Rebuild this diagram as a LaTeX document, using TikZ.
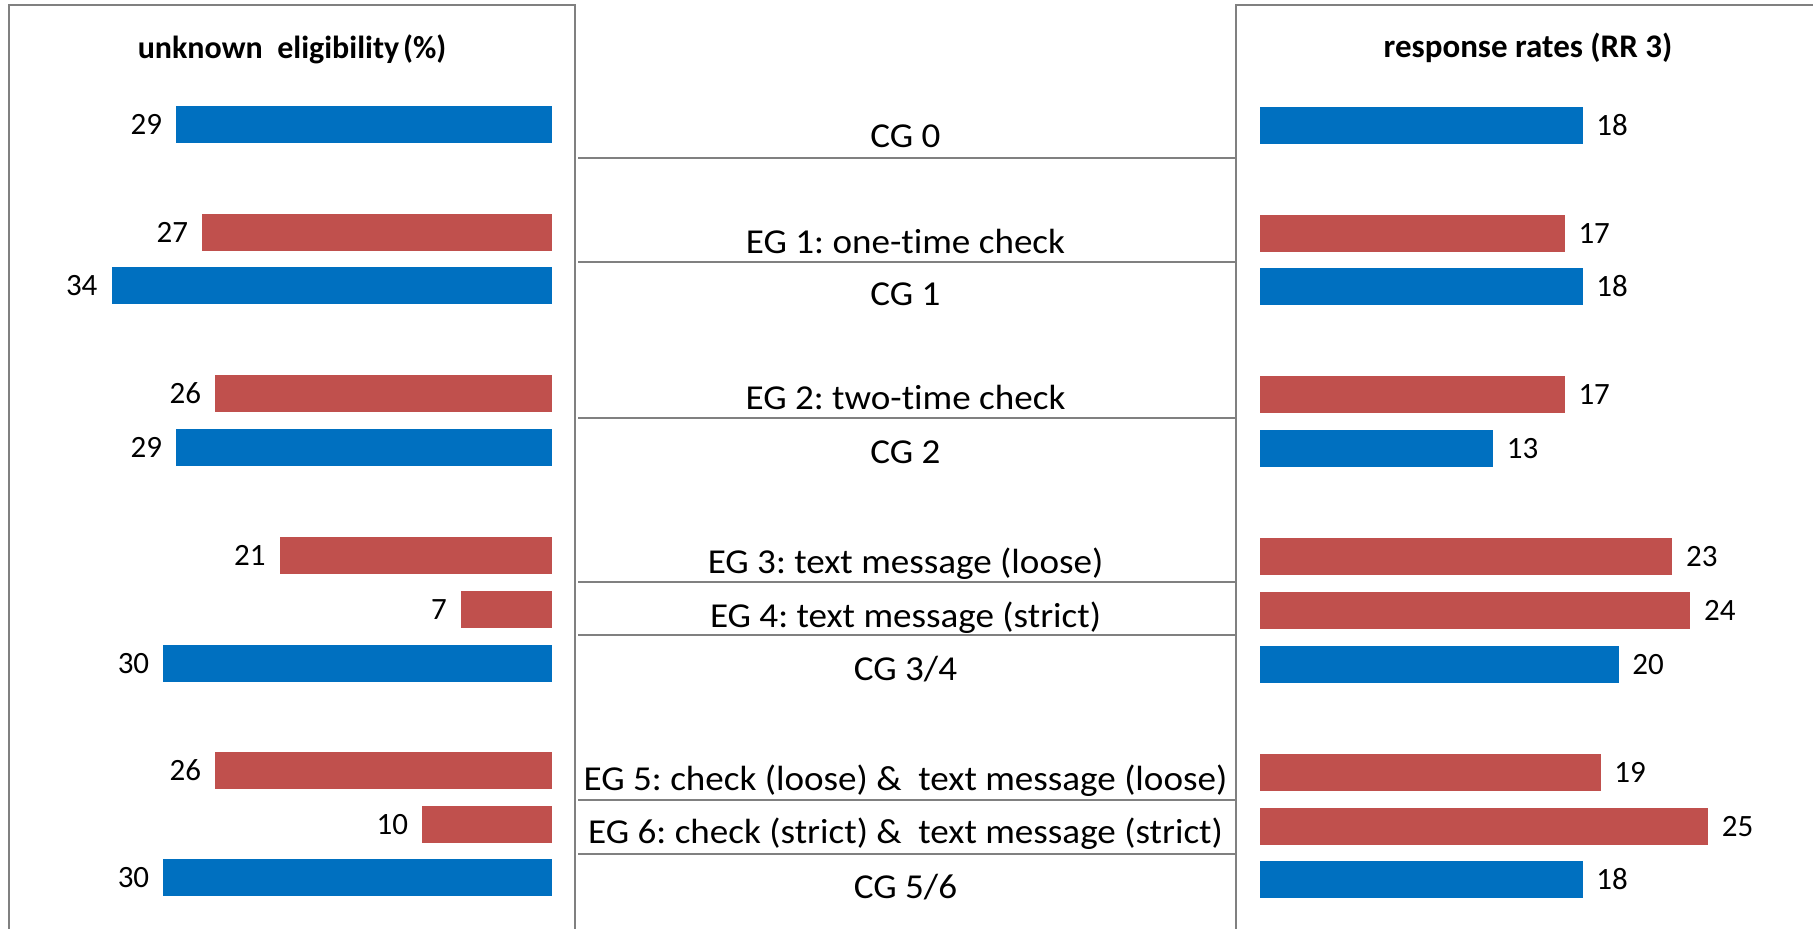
\documentclass[tikz,border=0pt]{standalone}
\usepackage{fontspec}
\setmainfont[Ligatures=NoCommon]{Carlito}
\newfontfamily\widefont[FakeStretch=1.06,Ligatures=NoCommon]{Carlito}
\frenchspacing
\definecolor{cgblue}{RGB}{0,112,192}
\definecolor{egred}{RGB}{192,80,77}
\definecolor{rulegray}{RGB}{128,128,128}
\begin{document}
\begin{tikzpicture}[x=1pt,y=-1pt,
  frame/.style={draw=rulegray,line width=2.5pt},
  sep/.style={draw=rulegray,line width=2.8pt},
  numlab/.style={font=\fontsize{31}{36}\selectfont,inner sep=0pt},
  grplab/.style={font=\widefont\fontsize{35}{42}\selectfont,inner sep=0pt,anchor=base},
  ttl/.style={font=\bfseries\fontsize{32}{38}\selectfont,inner sep=0pt,anchor=base}]
\useasboundingbox (0,0) rectangle (1813,929);
\fill[white] (0,0) rectangle (1813,929);
% panel frames
\coordinate (lb) at (9,929); \coordinate (lt) at (9,5);
\coordinate (rt0) at (575,5); \coordinate (rb0) at (575,929);
\draw[frame] (lb) -- (lt) -- (rt0) -- (rb0);
\coordinate (pb) at (1236,929); \coordinate (pt) at (1236,5); \coordinate (pr) at (1813,5);
\draw[frame] (pb) -- (pt) -- (pr);
% titles
\node[ttl] (tleft) at (292,58) {unknown\ \ eligibility\hspace{0.12em}(\%)};
\node[ttl,font=\bfseries\fontsize{33}{38}\selectfont] (tright) at (1528,57) {response rates (RR 3)};
% separators
\foreach \y/\n in {158/s0,262/s1,418/s2,582/s3,635/s4,800/s5,854/s6}{
  \coordinate (\n a) at (578,\y); \coordinate (\n b) at (1236,\y);
  \draw[sep] (\n a) -- (\n b);
}
% group labels
\node[grplab] (g0) at (905.5,147) {CG 0};
\node[grplab] (e1) at (905.5,253) {EG 1: one-t\kern0pt ime check};
\node[grplab] (g1) at (905.5,305) {CG 1};
\node[grplab] (e2) at (905.5,409) {EG 2: two-t\kern0pt ime check};
\node[grplab] (g2) at (905.5,463) {CG 2};
\node[grplab] (e3) at (905.5,573) {EG 3: text message (loose)};
\node[grplab] (e4) at (905.5,627) {EG 4: text message (strict)};
\node[grplab] (g34) at (905.5,680) {CG 3/4};
\node[grplab] (e5) at (905.5,790) {EG 5: check (loose) \& \ text message (loose)};
\node[grplab] (e6) at (905.5,843) {EG 6: check (strict) \& \ text message (strict)};
\node[grplab] (g56) at (905.5,898) {CG 5/6};
% left bars: unknown eligibility
\foreach \t/\v/\c/\n in {106/29/cgblue/a,214/27/egred/b,267/34/cgblue/c,375/26/egred/d,429/29/cgblue/e,
  537/21/egred/f,591/7/egred/g,645/30/cgblue/h,752/26/egred/i,806/10/egred/j,859/30/cgblue/k}{
  \fill[\c] ({551.6-12.94*\v},\t) rectangle (551.6,\t+37);
  \node[numlab,anchor=east] (L\n) at ({551.6-12.94*\v-14},\t+18.5) {\v};
}
% right bars: response rates
\foreach \t/\v/\c/\n in {107/18/cgblue/a,215/17/egred/b,268/18/cgblue/c,376/17/egred/d,430/13/cgblue/e,
  538/23/egred/f,592/24/egred/g,646/20/cgblue/h,754/19/egred/i,808/25/egred/j,861/18/cgblue/k}{
  \fill[\c] (1260,\t) rectangle ({1260+17.93*\v},\t+37);
  \node[numlab,anchor=west] (R\n) at ({1260+17.93*\v+13.5},\t+18.5) {\v};
}
\end{tikzpicture}
\end{document}
